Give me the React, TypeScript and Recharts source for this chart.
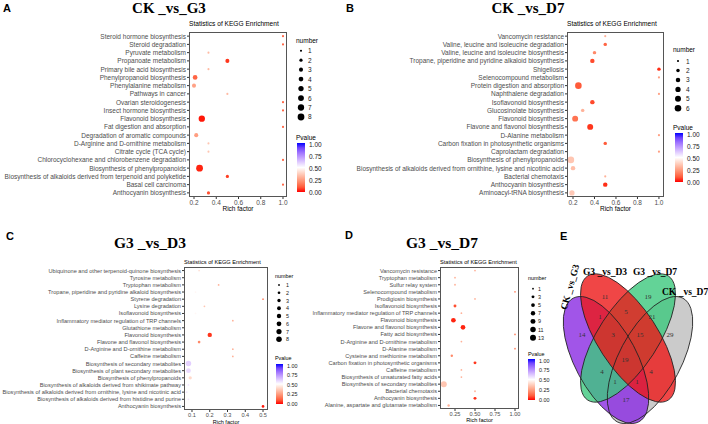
import React from "react";
import { ScatterChart, Scatter, XAxis, YAxis, ZAxis, Cell } from "recharts";

const SANS = '"Liberation Sans", Arial, sans-serif';
const SERIF = '"Liberation Serif", "Times New Roman", serif';

// ---------- A: CK_vs_G3 ----------
const pathA = [
  "Steroid hormone biosynthesis",
  "Steroid degradation",
  "Pyruvate metabolism",
  "Propanoate metabolism",
  "Primary bile acid biosynthesis",
  "Phenylpropanoid biosynthesis",
  "Phenylalanine metabolism",
  "Pathways in cancer",
  "Ovarian steroidogenesis",
  "Insect hormone biosynthesis",
  "Flavonoid biosynthesis",
  "Fat digestion and absorption",
  "Degradation of aromatic compounds",
  "D-Arginine and D-ornithine metabolism",
  "Citrate cycle (TCA cycle)",
  "Chlorocyclohexane and chlorobenzene degradation",
  "Biosynthesis of phenylpropanoids",
  "Biosynthesis of alkaloids derived from terpenoid and polyketide",
  "Basal cell carcinoma",
  "Anthocyanin biosynthesis",
];
const richA = [1.0, 1.0, 0.33, 0.5, 0.33, 0.21, 0.2, 0.5, 1.0, 1.0, 0.27, 1.0, 0.22, 0.33, 0.33, 1.0, 0.25, 0.5, 1.0, 0.33];
const numA = [1, 1, 1, 3, 1, 4, 3, 1, 1, 1, 7, 1, 3, 1, 1, 1, 8, 2, 1, 2];
const pA = [0.12, 0.12, 0.32, 0.04, 0.32, 0.12, 0.26, 0.32, 0.12, 0.12, 0.01, 0.12, 0.25, 0.35, 0.35, 0.12, 0.02, 0.05, 0.12, 0.08];

// ---------- B: CK_vs_D7 ----------
const pathB = [
  "Vancomycin resistance",
  "Valine, leucine and isoleucine degradation",
  "Valine, leucine and isoleucine biosynthesis",
  "Tropane, piperidine and pyridine alkaloid biosynthesis",
  "Shigellosis",
  "Selenocompound metabolism",
  "Protein digestion and absorption",
  "Naphthalene degradation",
  "Isoflavonoid biosynthesis",
  "Glucosinolate biosynthesis",
  "Flavonoid biosynthesis",
  "Flavone and flavonol biosynthesis",
  "D-Alanine metabolism",
  "Carbon fixation in photosynthetic organisms",
  "Caprolactam degradation",
  "Biosynthesis of phenylpropanoids",
  "Biosynthesis of alkaloids derived from ornithine, lysine and nicotinic acid",
  "Bacterial chemotaxis",
  "Anthocyanin biosynthesis",
  "Aminoacyl-tRNA biosynthesis",
];
const richB = [0.5, 0.5, 0.4, 0.38, 1.0, 1.0, 0.25, 1.0, 0.38, 0.29, 0.22, 0.36, 1.0, 0.5, 1.0, 0.18, 0.2, 0.5, 0.5, 0.19];
const numB = [1, 2, 2, 3, 2, 1, 6, 1, 3, 2, 5, 5, 1, 2, 1, 6, 3, 1, 3, 4];
const pB = [0.3, 0.12, 0.2, 0.07, 0.03, 0.25, 0.1, 0.25, 0.07, 0.3, 0.15, 0.04, 0.25, 0.1, 0.25, 0.35, 0.33, 0.3, 0.03, 0.36];

// ---------- C: G3_vs_D3 ----------
const pathC = [
  "Ubiquinone and other terpenoid-quinone biosynthesis",
  "Tyrosine metabolism",
  "Tryptophan metabolism",
  "Tropane, piperidine and pyridine alkaloid biosynthesis",
  "Styrene degradation",
  "Lysine degradation",
  "Isoflavonoid biosynthesis",
  "Inflammatory mediator regulation of TRP channels",
  "Glutathione metabolism",
  "Flavonoid biosynthesis",
  "Flavone and flavonol biosynthesis",
  "D-Arginine and D-ornithine metabolism",
  "Caffeine metabolism",
  "Biosynthesis of secondary metabolites",
  "Biosynthesis of plant secondary metabolites",
  "Biosynthesis of phenylpropanoids",
  "Biosynthesis of alkaloids derived from shikimate pathway",
  "Biosynthesis of alkaloids derived from ornithine, lysine and nicotinic acid",
  "Biosynthesis of alkaloids derived from histidine and purine",
  "Anthocyanin biosynthesis",
];
const richC = [0.14, 0.1, 0.25, 0.12, 0.5, 0.17, 0.12, 0.33, 0.1, 0.2, 0.14, 0.33, 0.33, 0.08, 0.08, 0.09, 0.08, 0.07, 0.08, 0.5];
const numC = [1, 1, 1, 1, 1, 1, 1, 1, 1, 5, 2, 1, 1, 8, 6, 3, 1, 1, 1, 2];
const pC = [0.42, 0.5, 0.3, 0.48, 0.2, 0.35, 0.48, 0.3, 0.5, 0.04, 0.2, 0.3, 0.3, 0.6, 0.58, 0.4, 0.55, 0.55, 0.55, 0.01];

// ---------- D: G3_vs_D7 ----------
const pathD = [
  "Vancomycin resistance",
  "Tryptophan metabolism",
  "Sulfur relay system",
  "Selenocompound metabolism",
  "Prodigiosin biosynthesis",
  "Isoflavonoid biosynthesis",
  "Inflammatory mediator regulation of TRP channels",
  "Flavonoid biosynthesis",
  "Flavone and flavonol biosynthesis",
  "Fatty acid biosynthesis",
  "D-Arginine and D-ornithine metabolism",
  "D-Alanine metabolism",
  "Cysteine and methionine metabolism",
  "Carbon fixation in photosynthetic organisms",
  "Caffeine metabolism",
  "Biosynthesis of unsaturated fatty acids",
  "Biosynthesis of secondary metabolites",
  "Bacterial chemotaxis",
  "Anthocyanin biosynthesis",
  "Alanine, aspartate and glutamate metabolism",
];
const richD = [0.5, 0.25, 0.25, 1.0, 0.5, 0.25, 0.33, 0.23, 0.35, 1.0, 0.33, 1.0, 0.21, 0.5, 0.33, 0.33, 0.11, 0.5, 0.5, 0.17];
const numD = [1, 1, 1, 1, 1, 3, 1, 8, 8, 1, 1, 1, 2, 3, 1, 1, 13, 1, 3, 2];
const pD = [0.3, 0.3, 0.3, 0.2, 0.3, 0.08, 0.3, 0.02, 0.02, 0.2, 0.3, 0.2, 0.2, 0.04, 0.3, 0.3, 0.35, 0.3, 0.03, 0.3];

// legend ticks
const sizeTicksA = [1, 2, 3, 4, 5, 6, 7, 8];
const sizeTicksB = [1, 2, 3, 4, 5, 6];
const sizeTicksC = [1, 2, 3, 4, 5, 6, 7, 8];
const sizeTicksD = [1, 3, 5, 7, 9, 11, 13];
const pTicks = [1, 0.75, 0.5, 0.25, 0];

// ---------- E: venn ----------
const vennNames = ["CK _vs_G3", "G3 _vs_D3", "G3 _vs_D7", "CK _vs_D7"];
const vennRegions = ["1000", "0100", "0010", "0001", "1100", "0110", "0011", "1110", "0111", "1111", "1010", "0101", "1011", "1101", "1001"];
const vennCounts = [14, 11, 19, 29, 1, 5, 21, 3, 15, 19, 4, 4, 1, 1, 17];

type Row = { name: string; rich: number; num: number; p: number };
const rows = (names: string[], rich: number[], num: number[], p: number[]): Row[] =>
  names.map((name, i) => ({ name, rich: rich[i], num: num[i], p: p[i] }));

// red - white - blue gradient interpolated in Lab (like ggplot gradient2)
const lin = (c: number) => {
  const v = c / 255;
  return v <= 0.04045 ? v / 12.92 : Math.pow((v + 0.055) / 1.055, 2.4);
};
const gam = (c: number) => {
  const v = c <= 0.0031308 ? 12.92 * c : 1.055 * Math.pow(c, 1 / 2.4) - 0.055;
  return Math.round(Math.max(0, Math.min(1, v)) * 255);
};
function toLab(c: number[]) {
  const [r, g, b] = c.map(lin);
  const x = (0.4124 * r + 0.3576 * g + 0.1805 * b) / 0.95047;
  const y = 0.2126 * r + 0.7152 * g + 0.0722 * b;
  const z = (0.0193 * r + 0.1192 * g + 0.9505 * b) / 1.08883;
  const f = (t: number) => (t > 0.008856 ? Math.cbrt(t) : 7.787 * t + 16 / 116);
  return [116 * f(y) - 16, 500 * (f(x) - f(y)), 200 * (f(y) - f(z))];
}
function fromLab([L, a, bb]: number[]) {
  const fy = (L + 16) / 116;
  const fx = fy + a / 500;
  const fz = fy - bb / 200;
  const inv = (t: number) => (t * t * t > 0.008856 ? t * t * t : (t - 16 / 116) / 7.787);
  const x = inv(fx) * 0.95047;
  const y = inv(fy);
  const z = inv(fz) * 1.08883;
  const r = 3.2406 * x - 1.5372 * y - 0.4986 * z;
  const g = -0.9689 * x + 1.8758 * y + 0.0415 * z;
  const b = 0.0557 * x - 0.204 * y + 1.057 * z;
  return `rgb(${gam(r)},${gam(g)},${gam(b)})`;
}
const labLow = toLab([255, 0, 0]);
const labMid = toLab([255, 255, 255]);
const labHigh = toLab([0, 0, 255]);
function pColor(p: number) {
  const t = Math.max(0, Math.min(1, p));
  const [a, b, f] = t < 0.5 ? [labLow, labMid, t / 0.5] : [labMid, labHigh, (t - 0.5) / 0.5];
  return fromLab(a.map((v, i) => v + (b[i] - v) * f));
}

type PanelCfg = {
  left: number;
  top: number;
  plotLeft: number;
  plotTop: number;
  plotRight: number;
  plotBottom: number;
  xAxisH: number;
  domain: [number, number];
  ticks: number[];
  digits: number;
  font: number;
  zDomain: [number, number];
  zRange: [number, number];
};

const cfgA: PanelCfg = { left: 0, top: 0, plotLeft: 189, plotTop: 32, plotRight: 287, plotBottom: 197, xAxisH: 14, domain: [0.155, 1.036], ticks: [0.2, 0.4, 0.6, 0.8, 1.0], digits: 1, font: 6.5, zDomain: [1, 8], zRange: [3.5, 36] };
const cfgB: PanelCfg = { left: 350, top: 0, plotLeft: 567, plotTop: 32, plotRight: 664, plotBottom: 197, xAxisH: 14, domain: [0.144, 1.047], ticks: [0.2, 0.4, 0.6, 0.8, 1.0], digits: 1, font: 6.5, zDomain: [1, 6], zRange: [3.5, 34] };
const cfgC: PanelCfg = { left: 0, top: 235, plotLeft: 184, plotTop: 267, plotRight: 268, plotBottom: 410, xAxisH: 14, domain: [0.055, 0.528], ticks: [0.1, 0.2, 0.3, 0.4, 0.5], digits: 1, font: 5.6, zDomain: [1, 8], zRange: [2.5, 24] };
const cfgD: PanelCfg = { left: 300, top: 235, plotLeft: 440, plotTop: 267, plotRight: 519, plotBottom: 409, xAxisH: 13, domain: [0.0625, 1.05], ticks: [0.25, 0.5, 0.75, 1.0], digits: 2, font: 5.6, zDomain: [1, 13], zRange: [2.5, 28] };

function BubblePanel({ data, cfg }: { data: Row[]; cfg: PanelCfg }) {
  const yW = cfg.plotLeft - cfg.left;
  const width = cfg.plotRight - cfg.left + 2;
  const height = cfg.plotBottom - cfg.top + cfg.xAxisH;
  const yTick = (props: any) => (
    <text x={props.x} y={props.y} textAnchor="end" dominantBaseline="central" fontSize={cfg.font} fill="#4D4D4D">
      {props.payload.value}
    </text>
  );
  const xTick = (props: any) => (
    <text x={props.x} y={props.y} textAnchor="middle" dominantBaseline="hanging" fontSize={cfg.font} fill="#4D4D4D">
      {Number(props.payload.value).toFixed(cfg.digits)}
    </text>
  );
  return (
    <div style={{ position: "absolute", left: cfg.left, top: cfg.top }}>
      <ScatterChart width={width} height={height} margin={{ top: cfg.plotTop - cfg.top, right: 2, bottom: 0, left: 0 }}>
        <XAxis
          type="number"
          dataKey="rich"
          domain={cfg.domain}
          allowDataOverflow
          ticks={cfg.ticks}
          interval={0}
          height={cfg.xAxisH}
          tickSize={2}
          tickMargin={1}
          axisLine={false}
          tickLine={{ stroke: "#333" }}
          tick={xTick}
          label={{ value: "Rich factor", position: "insideBottom", offset: 0, fontSize: cfg.font, fill: "#000" }}
        />
        <YAxis
          type="category"
          dataKey="name"
          width={yW}
          reversed
          interval={0}
          tickSize={2}
          tickMargin={1}
          axisLine={false}
          tickLine={{ stroke: "#333" }}
          tick={yTick}
        />
        <ZAxis type="number" dataKey="num" domain={cfg.zDomain} range={cfg.zRange} />
        <Scatter data={data} isAnimationActive={false} shape="circle">
          {data.map((d, i) => (
            <Cell key={i} fill={pColor(d.p)} />
          ))}
        </Scatter>
      </ScatterChart>
      <div
        style={{
          position: "absolute",
          left: yW,
          top: cfg.plotTop - cfg.top,
          width: cfg.plotRight - cfg.plotLeft,
          height: cfg.plotBottom - cfg.plotTop,
          border: "1px solid #555",
          boxSizing: "border-box",
          pointerEvents: "none",
        }}
      />
    </div>
  );
}

type LegendCfg = {
  x: number; titleY: number; dotX: number; labelX: number; y0: number; step: number;
  pTitleY: number; barX: number; barY: number; barW: number; barH: number; font: number;
};
const legA: LegendCfg = { x: 296, titleY: 43, dotX: 301, labelX: 308, y0: 50.7, step: 9.47, pTitleY: 140, barX: 297, barY: 143, barW: 8, barH: 49, font: 6.5 };
const legB: LegendCfg = { x: 673, titleY: 52, dotX: 678, labelX: 686, y0: 61, step: 9.46, pTitleY: 130, barX: 675, barY: 133, barW: 8, barH: 49, font: 6.5 };
const legC: LegendCfg = { x: 275, titleY: 278, dotX: 279, labelX: 286, y0: 285, step: 7.76, pTitleY: 360, barX: 276, barY: 364, barW: 7, barH: 40, font: 5.4 };
const legD: LegendCfg = { x: 528, titleY: 280, dotX: 533, labelX: 538, y0: 288.7, step: 8.17, pTitleY: 356, barX: 528, barY: 359, barW: 7, barH: 41, font: 5.4 };

function Legends({ id, leg, sizes, cfg }: { id: string; leg: LegendCfg; sizes: number[]; cfg: PanelCfg }) {
  const [d0, d1] = cfg.zDomain;
  const [r0, r1] = cfg.zRange;
  const radius = (n: number) => Math.sqrt((r0 + ((r1 - r0) * (n - d0)) / (d1 - d0)) / Math.PI);
  const stops = Array.from({ length: 11 }, (_, i) => i / 10);
  return (
    <g fontFamily={SANS} fontSize={leg.font}>
      <defs>
        <linearGradient id={id} x1="0" y1="0" x2="0" y2="1">
          {stops.map((s) => (
            <stop key={s} offset={s} stopColor={pColor(1 - s)} />
          ))}
        </linearGradient>
      </defs>
      <text x={leg.x} y={leg.titleY} fill="#000">number</text>
      {sizes.map((n, i) => (
        <g key={n}>
          <circle cx={leg.dotX} cy={leg.y0 + i * leg.step} r={radius(n)} fill="#000" />
          <text x={leg.labelX} y={leg.y0 + i * leg.step} dominantBaseline="central" fill="#1a1a1a">{n}</text>
        </g>
      ))}
      <text x={leg.x} y={leg.pTitleY} fill="#000">Pvalue</text>
      <rect x={leg.barX} y={leg.barY} width={leg.barW} height={leg.barH} fill={`url(#${id})`} />
      {pTicks.map((v) => (
        <text key={v} x={leg.labelX + 1} y={leg.barY + 1.5 + (leg.barH - 1.5) * (1 - v)} dominantBaseline="central" fill="#1a1a1a">
          {v.toFixed(2)}
        </text>
      ))}
    </g>
  );
}

// venn layout (screen geometry)
const vennShapes = [
  { cx: 606, cy: 360, rx: 70, ry: 31, rot: 62, fill: "#8A2BE2" },
  { cx: 628, cy: 338, rx: 74, ry: 30, rot: 57, fill: "#EC1818" },
  { cx: 628, cy: 338, rx: 74, ry: 30, rot: -57, fill: "#3CC87D" },
  { cx: 650, cy: 360, rx: 70, ry: 31, rot: -62, fill: "#BEBEBE" },
];
const drawOrder = [3, 0, 2, 1];
const regionPos: Record<string, [number, number]> = {
  "1000": [582, 335], "0100": [605, 297], "0010": [648, 297], "0001": [670, 335],
  "1100": [600, 317], "0110": [626, 312], "0011": [652, 317],
  "1110": [613, 335], "0111": [640, 335], "1111": [625, 360],
  "1010": [602, 372], "0101": [651, 372], "1011": [615, 382], "1101": [637, 382], "1001": [626, 400],
};

function Venn() {
  return (
    <g>
      {drawOrder.map((k) => {
        const s = vennShapes[k];
        return <ellipse key={"f" + k} cx={s.cx} cy={s.cy} rx={s.rx} ry={s.ry} transform={`rotate(${s.rot} ${s.cx} ${s.cy})`} fill={s.fill} fillOpacity={0.8} />;
      })}
      {vennShapes.map((s, k) => (
        <ellipse key={"s" + k} cx={s.cx} cy={s.cy} rx={s.rx} ry={s.ry} transform={`rotate(${s.rot} ${s.cx} ${s.cy})`} fill="none" stroke="#222" strokeWidth={0.8} />
      ))}
      {vennRegions.map((r, i) => (
        <text key={r} x={regionPos[r][0]} y={regionPos[r][1]} textAnchor="middle" dominantBaseline="central" fontFamily={SERIF} fontSize={7} fill="#333">
          {vennCounts[i]}
        </text>
      ))}
      <g fontFamily={SERIF} fontWeight="bold" fontSize={9.5} fill="#000">
        <text x={570} y={287} textAnchor="middle" dominantBaseline="central" transform="rotate(-74 570 287)">{vennNames[0]}</text>
        <text x={605} y={275} textAnchor="middle">{vennNames[1]}</text>
        <text x={655} y={275} textAnchor="middle">{vennNames[2]}</text>
        <text x={662} y={295}>{vennNames[3]}</text>
      </g>
    </g>
  );
}

export default function App() {
  const dataA = rows(pathA, richA, numA, pA);
  const dataB = rows(pathB, richB, numB, pB);
  const dataC = rows(pathC, richC, numC, pC);
  const dataD = rows(pathD, richD, numD, pD);
  return (
    <div style={{ position: "relative", width: 708, height: 424, overflow: "hidden", background: "#fff", fontFamily: SANS }}>
      <style>{"body{margin:0}"}</style>
      <BubblePanel data={dataA} cfg={cfgA} />
      <BubblePanel data={dataB} cfg={cfgB} />
      <BubblePanel data={dataC} cfg={cfgC} />
      <BubblePanel data={dataD} cfg={cfgD} />
      <svg width={708} height={424} style={{ position: "absolute", left: 0, top: 0, pointerEvents: "none" }}>
        <g fontFamily={SANS} fontWeight="bold" fontSize={11} fill="#000">
          <text x={3} y={12}>A</text>
          <text x={346} y={12}>B</text>
          <text x={6} y={240}>C</text>
          <text x={345} y={239}>D</text>
          <text x={560} y={240}>E</text>
        </g>
        <g fontFamily={SERIF} fontWeight="bold" fill="#000" textAnchor="middle">
          <text x={169} y={13} fontSize={15}>CK _vs_G3</text>
          <text x={528} y={13} fontSize={15}>CK _vs_D7</text>
          <text x={150} y={248} fontSize={15.5}>G3 _vs_D3</text>
          <text x={442} y={248} fontSize={15.5}>G3 _vs_D7</text>
        </g>
        <g fontFamily={SANS} fill="#000">
          <text x={cfgA.plotLeft} y={26} fontSize={6.6}>Statistics of KEGG Enrichment</text>
          <text x={cfgB.plotLeft} y={26} fontSize={6.6}>Statistics of KEGG Enrichment</text>
          <text x={cfgC.plotLeft} y={264} fontSize={5.65}>Statistics of KEGG Enrichment</text>
          <text x={cfgD.plotLeft} y={264} fontSize={5.65}>Statistics of KEGG Enrichment</text>
        </g>
        <Legends id="gA" leg={legA} sizes={sizeTicksA} cfg={cfgA} />
        <Legends id="gB" leg={legB} sizes={sizeTicksB} cfg={cfgB} />
        <Legends id="gC" leg={legC} sizes={sizeTicksC} cfg={cfgC} />
        <Legends id="gD" leg={legD} sizes={sizeTicksD} cfg={cfgD} />
        <Venn />
      </svg>
    </div>
  );
}
